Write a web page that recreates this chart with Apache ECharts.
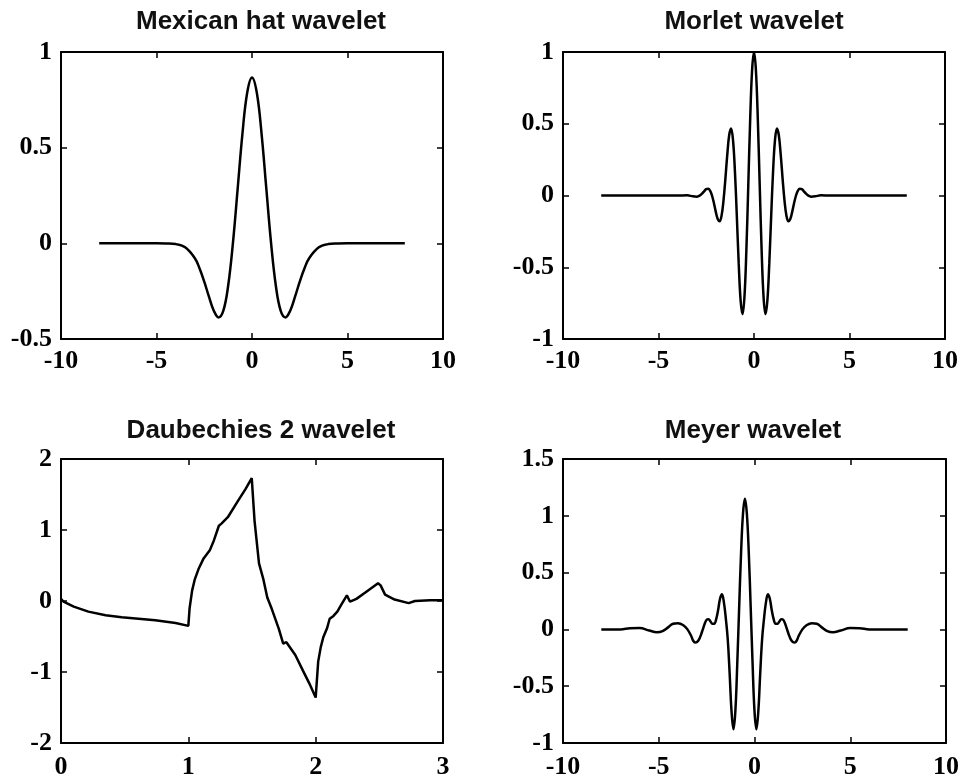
<!DOCTYPE html>
<html>
<head>
<meta charset="utf-8">
<script src="https://cdn.jsdelivr.net/npm/echarts/dist/echarts.min.js"></script>
<style>
html, body { margin: 0; padding: 0; background: #fff; }
#main { width: 963px; height: 780px; }
</style>
</head>
<body>
<div id="main"></div>
<script>
var myChart = echarts.init(document.getElementById('main'));

/* Mexican hat */
var mexX = [-8, -6, -5, -4.5, -4, -3.5, -3, -2.75, -2.5, -2.25, -2, -1.75, -1.5, -1.25, -1, -0.75, -0.5, -0.25, 0,
            0.25, 0.5, 0.75, 1, 1.25, 1.5, 1.75, 2, 2.25, 2.5, 2.75, 3, 3.5, 4, 4.5, 5, 6, 8];
var mexY = [0, 0, 0, -0.001, -0.004, -0.021, -0.077, -0.13, -0.2, -0.28, -0.352, -0.387, -0.352, -0.223, 0, 0.286, 0.574, 0.788, 0.867,
            0.788, 0.574, 0.286, 0, -0.223, -0.352, -0.387, -0.352, -0.28, -0.2, -0.13, -0.077, -0.021, -0.004, -0.001, 0, 0, 0];

/* Morlet */
var morX = [-8, -5, -4, -3.5, -3.2, -3, -2.9, -2.8, -2.7, -2.6, -2.5, -2.4, -2.3, -2.2, -2.1, -2, -1.9, -1.8, -1.7, -1.6,
            -1.5, -1.4, -1.3, -1.2, -1.1, -1, -0.9, -0.8, -0.7, -0.6, -0.5, -0.4, -0.3, -0.2, -0.1, 0,
            0.1, 0.2, 0.3, 0.4, 0.5, 0.6, 0.7, 0.8, 0.9, 1, 1.1, 1.2, 1.3, 1.4, 1.5, 1.6, 1.7, 1.8, 1.9, 2,
            2.1, 2.2, 2.3, 2.4, 2.5, 2.6, 2.7, 2.8, 2.9, 3, 3.2, 3.5, 4, 5, 8];
var morY = [0, 0, 0, 0.001, -0.006, -0.008, -0.005, 0.003, 0.016, 0.031, 0.044, 0.047, 0.034, 0, -0.052, -0.114, -0.164, -0.18, -0.142, -0.04,
            0.113, 0.283, 0.42, 0.467, 0.387, 0.172, -0.141, -0.475, -0.733, -0.827, -0.707, -0.384, 0.068, 0.53, 0.873, 1,
            0.873, 0.53, 0.068, -0.384, -0.707, -0.827, -0.733, -0.475, -0.141, 0.172, 0.387, 0.467, 0.42, 0.283, 0.113, -0.04, -0.142, -0.18, -0.164, -0.114,
            -0.052, 0, 0.034, 0.047, 0.044, 0.031, 0.016, 0.003, -0.005, -0.008, -0.006, 0.001, 0, 0, 0];

/* Daubechies 2 */
var dbX = [0, 0.02, 0.1, 0.215, 0.35, 0.477, 0.74, 0.9, 1.0, 1.01, 1.03, 1.05, 1.08, 1.12, 1.17, 1.2, 1.24, 1.26, 1.31, 1.39, 1.45, 1.498,
           1.52, 1.555, 1.59, 1.62, 1.655, 1.71, 1.745, 1.77, 1.84, 1.9, 1.95, 2.0,
           2.02, 2.04, 2.06, 2.09, 2.11, 2.14, 2.17, 2.205, 2.245, 2.27, 2.32, 2.39, 2.49, 2.51, 2.545, 2.62, 2.73, 2.78, 2.9, 3.0];
var dbY = [0.03, -0.01, -0.08, -0.15, -0.2, -0.23, -0.27, -0.31, -0.35, -0.1, 0.15, 0.3, 0.45, 0.6, 0.72, 0.85, 1.06, 1.09, 1.18, 1.41, 1.58, 1.73,
           1.13, 0.53, 0.3, 0.05, -0.11, -0.39, -0.6, -0.58, -0.76, -0.98, -1.16, -1.36,
           -0.85, -0.65, -0.51, -0.38, -0.25, -0.21, -0.15, -0.04, 0.08, -0.01, 0.03, 0.12, 0.25, 0.22, 0.09, 0.02, -0.03, 0, 0.01, 0.01];

/* Meyer */
var meyX = [-8, -7, -6.5, -6, -5.5, -5.1, -4.8, -4.5, -4.25, -4, -3.7, -3.5, -3.3,
            -3.2, -3.1, -3, -2.9, -2.8, -2.7, -2.6, -2.5, -2.4, -2.3, -2.2, -2.1, -2, -1.9, -1.8, -1.7, -1.6, -1.5, -1.4, -1.3, -1.2, -1.1,
            -1, -0.9, -0.8, -0.7, -0.6, -0.5, -0.4, -0.3, -0.2, -0.1, 0, 0.1, 0.2, 0.3, 0.4, 0.5, 0.6, 0.7, 0.8, 0.9,
            1, 1.1, 1.2, 1.3, 1.4, 1.5, 1.6, 1.7, 1.8, 1.9, 2, 2.1, 2.2,
            2.3, 2.5, 2.7, 3, 3.25, 3.5, 3.8, 4.1, 4.5, 5, 5.5, 6, 7, 8];
var meyY = [0, 0, 0.01, 0.012, -0.01, -0.025, -0.015, 0.02, 0.05, 0.055, 0.035, 0, -0.06,
            -0.1, -0.115, -0.11, -0.09, -0.05, 0, 0.05, 0.085, 0.09, 0.07, 0.05, 0.05, 0.09, 0.17, 0.27, 0.31, 0.24, 0.1, -0.08, -0.38, -0.72, -0.88,
            -0.72, -0.3, 0.2, 0.68, 1.02, 1.15, 1.02, 0.68, 0.2, -0.3, -0.72, -0.88, -0.72, -0.38, -0.08, 0.1, 0.24, 0.31, 0.27, 0.17,
            0.09, 0.05, 0.05, 0.07, 0.09, 0.085, 0.05, 0, -0.05, -0.09, -0.11, -0.115, -0.1,
            -0.06, 0, 0.035, 0.055, 0.05, 0.02, -0.015, -0.025, -0.01, 0.012, 0.01, 0, 0, 0];

var titles = ['Mexican hat wavelet', 'Morlet wavelet', 'Daubechies 2 wavelet', 'Meyer wavelet'];
var titleX = [261, 754, 261, 753];
var titleY = [9, 9, 418, 418];

var grids = [
    {left: 61, top: 52, width: 382, height: 287},
    {left: 563, top: 52, width: 382, height: 287},
    {left: 61, top: 459, width: 382, height: 289},
    {left: 563, top: 459, width: 383, height: 289}
];
var xRange = [[-10, 10, 5], [-10, 10, 5], [0, 3, 1], [-10, 10, 5]];
var yRange = [[-0.5, 1, 0.5], [-1, 1, 0.5], [-2, 2, 1], [-1, 1.5, 0.5]];
var xMargin = [9, 9, 11, 11];

function zip(xs, ys) {
    var out = [];
    for (var i = 0; i < xs.length; i++) out.push([xs[i], ys[i]]);
    return out;
}

function axis(gi, r, pos, showLabel, margin) {
    return {
        gridIndex: gi,
        type: 'value',
        position: pos,
        min: r[0], max: r[1], interval: r[2],
        axisLine: {onZero: false, lineStyle: {color: '#000', width: 2}},
        axisTick: {inside: true, length: 6, lineStyle: {color: '#000', width: 1.5}},
        axisLabel: {
            show: showLabel, color: '#000', margin: margin,
            fontFamily: 'Liberation Serif', fontWeight: 'bold', fontSize: 26
        },
        splitLine: {show: false}
    };
}

var xAxes = [], yAxes = [], titleList = [];
for (var g = 0; g < 4; g++) {
    xAxes.push(axis(g, xRange[g], 'bottom', true, xMargin[g]));
    xAxes.push(axis(g, xRange[g], 'top', false, 8));
    yAxes.push(axis(g, yRange[g], 'left', true, 9));
    yAxes.push(axis(g, yRange[g], 'right', false, 8));
    titleList.push({
        text: titles[g], left: titleX[g], top: titleY[g], textAlign: 'center', padding: 0,
        textStyle: {fontFamily: 'Liberation Sans', fontWeight: 'bold', fontSize: 26, color: '#111'}
    });
}

function line(gi, data, smooth) {
    return {
        type: 'line', xAxisIndex: gi * 2, yAxisIndex: gi * 2,
        data: data, showSymbol: false, smooth: smooth, animation: false,
        lineStyle: {color: '#000', width: 2.5}
    };
}

var option = {
    animation: false,
    title: titleList,
    grid: grids,
    xAxis: xAxes,
    yAxis: yAxes,
    series: [
        line(0, zip(mexX, mexY), 0.4),
        line(1, zip(morX, morY), 0.4),
        line(2, zip(dbX, dbY), false),
        line(3, zip(meyX, meyY), 0.4)
    ]
};
myChart.setOption(option);
</script>
</body>
</html>
